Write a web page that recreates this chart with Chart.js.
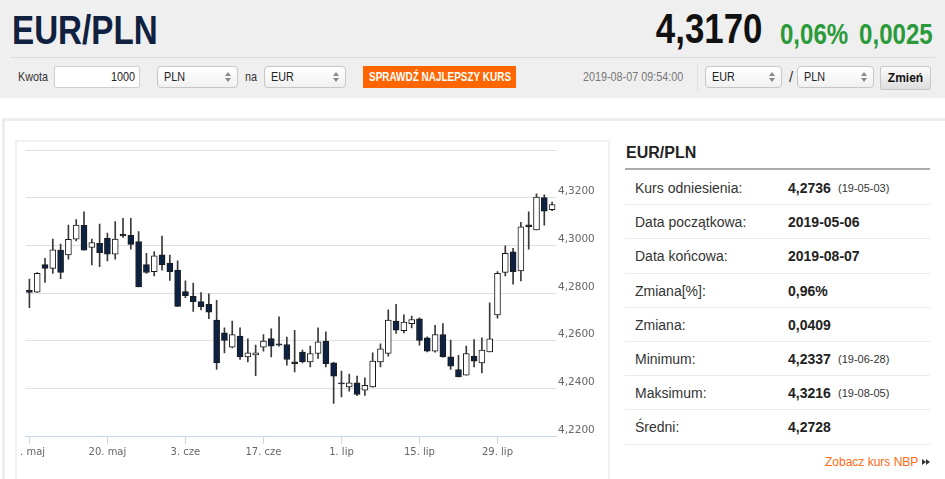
<!DOCTYPE html>
<html lang="pl">
<head>
<meta charset="utf-8">
<title>EUR/PLN</title>
<script src="https://cdn.jsdelivr.net/npm/chart.js@4.4.1/dist/chart.umd.min.js"></script>
<style>
  html, body { margin: 0; padding: 0; }
  body {
    width: 945px; height: 479px; overflow: hidden; position: relative;
    background: #fff; color: #333;
    font-family: "Liberation Sans", Arial, sans-serif;
  }
  .abs { position: absolute; white-space: nowrap; box-sizing: border-box; }
  /* brak kroju waskiego - sciskamy tekst w poziomie */
  .cond { display: inline-block; transform: scaleX(0.83); transform-origin: left center; }
  .condR { display: inline-block; transform: scaleX(0.83); transform-origin: right center; }

  /* ---------- naglowek ---------- */
  #head { left: 0; top: 0; width: 945px; height: 98px; background: #efefef; }
  #title { left: 12px; top: 10px; font-size: 40px; line-height: 40px; font-weight: bold; color: #0f213f; }
  #price { right: 183px; top: 8px; font-size: 42px; line-height: 42px; font-weight: bold; color: #111; }
  .green { color: #2a9a3a; font-size: 29px; line-height: 29px; font-weight: bold; top: 20px; }
  #pct { right: 97px; }
  #chg { right: 12px; }
  #hr { left: 10px; top: 57px; width: 925px; height: 1px; background: #dcdcdc; }

  .lbl { top: 66px; height: 22px; line-height: 22px; font-size: 13px; color: #333; }
  .input {
    left: 54px; top: 66px; width: 86px; height: 22px; line-height: 20px;
    border: 1px solid #cfcfcf; border-radius: 2px; background: #fff;
    text-align: right; padding-right: 4px; font-size: 13px; color: #222;
  }
  .sel {
    top: 66px; height: 22px; line-height: 20px; font-size: 13px; color: #222;
    border: 1px solid #c6c6c6; border-radius: 4px; padding-left: 6px;
    background: linear-gradient(#ffffff, #f1f1f1);
  }
  .sel::before, .sel::after {
    content: ""; position: absolute; right: 6px; width: 0; height: 0;
    border-left: 3px solid transparent; border-right: 3px solid transparent;
  }
  .sel::before { top: 5px; border-bottom: 4px solid #888; }
  .sel::after { top: 11px; border-top: 4px solid #888; }
  .btn {
    left: 363px; top: 66px; width: 153px; height: 22px; line-height: 22px; padding-left: 6px;
    background: #ff6600; color: #fff; font-size: 12px; font-weight: bold;
  }
  .date { left: 583px; top: 66px; height: 22px; line-height: 22px; font-size: 13px; color: #777; }
  .vsep { left: 697px; top: 62px; width: 1px; height: 30px; background: #e2e2e2; }
  .zmien {
    left: 880px; top: 66px; width: 51px; height: 24px; line-height: 22px; text-align: center;
    border: 1px solid #c8c8c8; border-radius: 2px; background: linear-gradient(#fafafa, #dedede);
    font-size: 12px; font-weight: bold; color: #111;
  }

  /* ---------- panel ---------- */
  #panel { left: 2px; top: 118px; width: 960px; height: 400px; border: 3px solid #eeeeee; }
  #chartBox { left: 15px; top: 140px; width: 595px; height: 345px; border: 2px solid #f1f1f1; }
  #chartClip { position: absolute; left: 3px; top: 0; width: 588px; height: 341px; overflow: hidden; }
  #chartHolder { position: absolute; left: -20px; top: -142px; width: 610px; height: 479px; }

  #infoTitle { left: 626px; top: 143px; font-size: 16px; line-height: 20px; font-weight: bold; color: #222; }
  #infoRule { left: 625px; top: 168px; width: 305px; height: 2px; background: #aaaaaa; }
  .row {
    position: absolute; left: 625px; width: 305px; height: 34.2px; box-sizing: border-box;
    border-bottom: 1px solid #ebebeb; font-size: 14px; color: #333;
  }
  .row span { position: absolute; top: 0; line-height: 35px; white-space: nowrap; }
  .row .k { left: 10px; }
  .row .v { left: 163px; font-weight: bold; color: #222; }
  .row .d { left: 213px; font-size: 11px; color: #333; }
  #nbp { left: 825px; top: 455px; font-size: 12px; line-height: 15px; color: #ff6a13; }
  .tri { position: absolute; top: 459px; width: 0; height: 0;
    border-top: 3px solid transparent; border-bottom: 3px solid transparent; border-left: 4px solid #333; }
</style>
</head>
<body>

<div class="abs" id="head"></div>
<div class="abs" id="title"><span class="cond">EUR/PLN</span></div>
<div class="abs" id="price"><span class="condR">4,3170</span></div>
<div class="abs green" id="pct"><span class="condR">0,06%</span></div>
<div class="abs green" id="chg"><span class="condR">0,0025</span></div>
<div class="abs" id="hr"></div>

<div class="abs lbl" style="left:18px;"><span class="cond">Kwota</span></div>
<div class="abs input"><span class="condR">1000</span></div>
<div class="abs sel" style="left:157px;width:81px;"><span class="cond">PLN</span></div>
<div class="abs lbl" style="left:245px;"><span class="cond">na</span></div>
<div class="abs sel" style="left:264px;width:82px;"><span class="cond">EUR</span></div>
<div class="abs btn"><span class="cond">SPRAWDŹ NAJLEPSZY KURS</span></div>
<div class="abs date"><span class="cond">2019-08-07 09:54:00</span></div>
<div class="abs vsep"></div>
<div class="abs sel" style="left:705px;width:77px;"><span class="cond">EUR</span></div>
<div class="abs lbl" style="left:789px;font-size:15px;">/</div>
<div class="abs sel" style="left:797px;width:77px;"><span class="cond">PLN</span></div>
<div class="abs zmien">Zmień</div>

<div class="abs" id="panel"></div>
<div class="abs" id="chartBox">
  <div id="chartClip">
    <div id="chartHolder"><canvas id="candleChart"></canvas></div>
  </div>
</div>

<div class="abs" id="infoTitle">EUR/PLN</div>
<div class="abs" id="infoRule"></div>
<div id="infoRows"></div>
<div class="abs" id="nbp">Zobacz kurs NBP</div>
<div class="tri" style="left:922px;"></div>
<div class="tri" style="left:926px;"></div>

<script>
/* ===================================================
   DANE
=================================================== */

const dates = [
    "2019-05-06", "2019-05-07", "2019-05-08", "2019-05-09", "2019-05-10",
    "2019-05-13", "2019-05-14", "2019-05-15", "2019-05-16", "2019-05-17",
    "2019-05-20", "2019-05-21", "2019-05-22", "2019-05-23", "2019-05-24",
    "2019-05-27", "2019-05-28", "2019-05-29", "2019-05-30", "2019-05-31",
    "2019-06-03", "2019-06-04", "2019-06-05", "2019-06-06", "2019-06-07",
    "2019-06-10", "2019-06-11", "2019-06-12", "2019-06-13", "2019-06-14",
    "2019-06-17", "2019-06-18", "2019-06-19", "2019-06-20", "2019-06-21",
    "2019-06-24", "2019-06-25", "2019-06-26", "2019-06-27", "2019-06-28",
    "2019-07-01", "2019-07-02", "2019-07-03", "2019-07-04", "2019-07-05",
    "2019-07-08", "2019-07-09", "2019-07-10", "2019-07-11", "2019-07-12",
    "2019-07-15", "2019-07-16", "2019-07-17", "2019-07-18", "2019-07-19",
    "2019-07-22", "2019-07-23", "2019-07-24", "2019-07-25", "2019-07-26",
    "2019-07-29", "2019-07-30", "2019-07-31", "2019-08-01", "2019-08-02",
    "2019-08-05", "2019-08-06", "2019-08-07"
];

const openValues = [
    4.2811, 4.2804, 4.2919, 4.2903, 4.2980, 4.2960, 4.3026, 4.3084, 4.2991, 4.3008,
    4.3029, 4.2963, 4.3047, 4.3042, 4.3016, 4.2919, 4.2890, 4.2960, 4.2925, 4.2896,
    4.2806, 4.2786, 4.2764, 4.2752, 4.2686, 4.2633, 4.2573, 4.2619, 4.2532, 4.2540,
    4.2573, 4.2609, 4.2587, 4.2584, 4.2511, 4.2552, 4.2511, 4.2546, 4.2598, 4.2507,
    4.2423, 4.2406, 4.2423, 4.2392, 4.2406, 4.2511, 4.2546, 4.2682, 4.2642, 4.2671,
    4.2692, 4.2612, 4.2556, 4.2626, 4.2532, 4.2479, 4.2455, 4.2535, 4.2507, 4.2553,
    4.2708, 4.2886, 4.2973, 4.2893, 4.3086, 4.3065, 4.3200, 4.3150
];

const highValues = [
    4.2858, 4.2886, 4.2945, 4.3026, 4.3005, 4.3085, 4.3108, 4.3141, 4.3026, 4.3089,
    4.3051, 4.3100, 4.3113, 4.3113, 4.3058, 4.2966, 4.2974, 4.3039, 4.2959, 4.2935,
    4.2851, 4.2842, 4.2802, 4.2797, 4.2769, 4.2654, 4.2682, 4.2654, 4.2608, 4.2581,
    4.2626, 4.2650, 4.2700, 4.2615, 4.2643, 4.2560, 4.2577, 4.2654, 4.2637, 4.2509,
    4.2472, 4.2460, 4.2451, 4.2444, 4.2549, 4.2587, 4.2729, 4.2752, 4.2708, 4.2703,
    4.2696, 4.2616, 4.2664, 4.2672, 4.2602, 4.2539, 4.2577, 4.2605, 4.2612, 4.2759,
    4.2890, 4.2998, 4.2987, 4.3096, 4.3141, 4.3216, 4.3212, 4.3181
];

const lowValues = [
    4.2738, 4.2802, 4.2844, 4.2882, 4.2860, 4.2942, 4.3019, 4.2980, 4.2918, 4.2910,
    4.2935, 4.2942, 4.3033, 4.2984, 4.2825, 4.2882, 4.2872, 4.2896, 4.2853, 4.2744,
    4.2780, 4.2723, 4.2729, 4.2692, 4.2479, 4.2549, 4.2570, 4.2521, 4.2511, 4.2453,
    4.2556, 4.2532, 4.2577, 4.2497, 4.2469, 4.2507, 4.2490, 4.2525, 4.2490, 4.2337,
    4.2364, 4.2388, 4.2369, 4.2370, 4.2405, 4.2490, 4.2535, 4.2630, 4.2633, 4.2654,
    4.2581, 4.2553, 4.2552, 4.2531, 4.2479, 4.2448, 4.2455, 4.2490, 4.2465, 4.2553,
    4.2694, 4.2872, 4.2837, 4.2851, 4.2984, 4.3065, 4.3085, 4.3145
];

const closeValues = [
    4.2802, 4.2883, 4.2903, 4.2981, 4.2886, 4.3025, 4.3085, 4.2980, 4.3012, 4.2969,
    4.2963, 4.3026, 4.3040, 4.3004, 4.2825, 4.2886, 4.2956, 4.2919, 4.2890, 4.2744,
    4.2789, 4.2764, 4.2743, 4.2720, 4.2507, 4.2601, 4.2626, 4.2532, 4.2549, 4.2549,
    4.2598, 4.2577, 4.2581, 4.2521, 4.2504, 4.2511, 4.2546, 4.2595, 4.2503, 4.2451,
    4.2419, 4.2423, 4.2374, 4.2413, 4.2514, 4.2566, 4.2686, 4.2644, 4.2678, 4.2689,
    4.2601, 4.2556, 4.2626, 4.2532, 4.2493, 4.2448, 4.2546, 4.2514, 4.2560, 4.2608,
    4.2883, 4.2966, 4.2890, 4.3078, 4.3078, 4.3202, 4.3143, 4.3171
];

const tickDates = ["2019-05-06", "2019-05-20", "2019-06-03", "2019-06-17", "2019-07-01", "2019-07-15", "2019-07-29"];
const tickLabels = ["6. maj", "20. maj", "3. cze", "17. cze", "1. lip", "15. lip", "29. lip"];

const yMin = 4.22;
const yMax = 4.34;
const yStep = 0.02;

const infoLabels = ["Kurs odniesienia:", "Data początkowa:", "Data końcowa:", "Zmiana[%]:", "Zmiana:", "Minimum:", "Maksimum:", "Średni:"];
const infoValues = ["4,2736", "2019-05-06", "2019-08-07", "0,96%", "0,0409", "4,2337", "4,3216", "4,2728"];
const infoDates = ["(19-05-03)", "", "", "", "", "(19-06-28)", "(19-08-05)", ""];

/* ===================================================
   TABELA
=================================================== */

function buildInfoRows() {
    const box = document.getElementById("infoRows");
    infoLabels.forEach((label, i) => {
        const row = document.createElement("div");
        row.className = "row";
        row.style.top = (171 + 34.2 * i) + "px";
        row.innerHTML =
            '<span class="k">' + label + '</span>' +
            '<span class="v">' + infoValues[i] + '</span>' +
            (infoDates[i] ? '<span class="d">' + infoDates[i] + '</span>' : '');
        box.appendChild(row);
    });
}

/* ===================================================
   WYKRES SWIECOWY
=================================================== */

function generateCandleChart() {
    const ctx = document.getElementById("candleChart").getContext("2d");

    // korpus: [otwarcie, zamkniecie], knot: [min, max]
    const bodies = dates.map((d, i) => [openValues[i], closeValues[i]]);
    const wicks = dates.map((d, i) => [lowValues[i], highValues[i]]);
    const bodyColors = dates.map((d, i) => (closeValues[i] < openValues[i] ? "#0d2242" : "#ffffff"));

    const tickIndex = {};
    tickDates.forEach((d, j) => { tickIndex[dates.indexOf(d)] = tickLabels[j]; });

    new Chart(ctx, {
        type: "bar",
        data: {
            labels: dates,
            datasets: [
                {
                    data: bodies,
                    backgroundColor: bodyColors,
                    borderColor: "#1a1a1a",
                    borderWidth: 1,
                    borderSkipped: false,
                    barThickness: 6,
                    grouped: false,
                    order: 0,
                },
                {
                    data: wicks,
                    backgroundColor: "#3a3a3a",
                    borderWidth: 0,
                    barThickness: 1,
                    grouped: false,
                    order: 1,
                },
            ],
        },
        options: {
            responsive: true,
            maintainAspectRatio: false,
            animation: false,
            devicePixelRatio: 1,
            layout: { padding: { left: 25.5, top: 150, right: 4, bottom: 13 } },
            plugins: {
                legend: { display: false },
                tooltip: { enabled: false },
            },
            scales: {
                x: {
                    offset: true,
                    grid: {
                        offset: false,
                        drawOnChartArea: false,
                        tickLength: 8,
                        color: (c) => (tickIndex[c.index] !== undefined ? "#ccd6eb" : "rgba(0,0,0,0)"),
                    },
                    border: { color: "#ccd6eb" },
                    ticks: {
                        autoSkip: false,
                        maxRotation: 0,
                        padding: 2,
                        color: "#666666",
                        font: { family: "DejaVu Sans", size: 10 },
                        callback: (value, index) => (tickIndex[index] !== undefined ? tickIndex[index] : ""),
                    },
                    afterFit: (scale) => { scale.height = 30; },
                },
                y: {
                    position: "right",
                    min: yMin,
                    max: yMax,
                    grid: { color: "#e0e0e0", drawTicks: false },
                    border: { display: false },
                    ticks: {
                        stepSize: yStep,
                        padding: 2,
                        labelOffset: -6,
                        color: "#666666",
                        font: { family: "DejaVu Sans", size: 10.5 },
                        callback: (value) => (value > yMax - yStep / 4 ? "" : value.toFixed(4).replace(".", ",")),
                    },
                    afterFit: (scale) => { scale.width = 50; },
                },
            },
        },
    });
}

buildInfoRows();
generateCandleChart();
</script>
</body>
</html>
